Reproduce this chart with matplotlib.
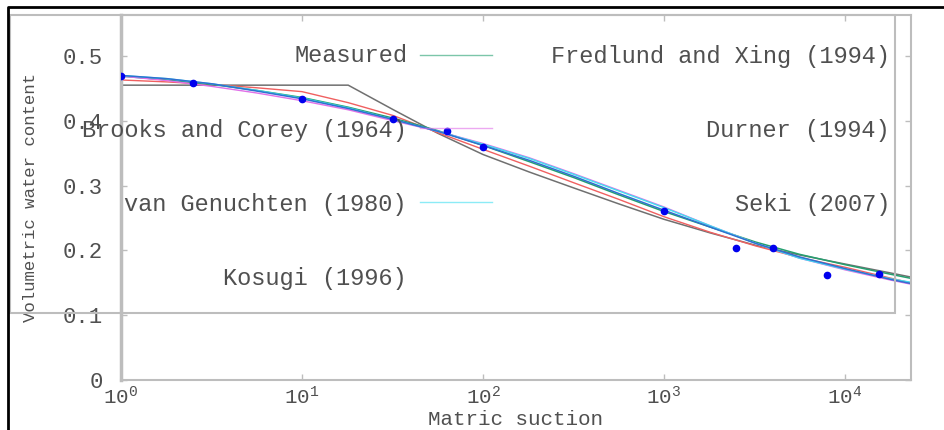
import numpy as np
import matplotlib.pyplot as plt
from matplotlib.patches import Rectangle
from matplotlib.lines import Line2D

# Soil water retention curve: measured points and fitted models

# Measured points
suction_meas = [1, 2.5, 10, 32, 63, 100, 1000, 2500, 4000, 8000, 15500]
theta_meas = [0.469, 0.458, 0.434, 0.403, 0.384, 0.360, 0.261, 0.204, 0.204, 0.162, 0.164]

# Suction values at which the fitted curves were read
suction_fit = [1, 1.8, 3.2, 5.6, 10, 18, 32, 56, 100, 180, 320, 560,
               1000, 1800, 3200, 5600, 10000, 18000, 23000]

theta_bc = [0.455, 0.455, 0.455, 0.455, 0.455, 0.455, 0.417, 0.381, 0.348, 0.321, 0.296, 0.272,
            0.248, 0.227, 0.208, 0.193, 0.179, 0.165, 0.159]
theta_fx = [0.469, 0.463, 0.456, 0.447, 0.436, 0.421, 0.404, 0.385, 0.362, 0.337, 0.312, 0.286,
            0.260, 0.236, 0.213, 0.194, 0.178, 0.163, 0.157]
theta_vg = [0.470, 0.465, 0.457, 0.447, 0.435, 0.420, 0.402, 0.384, 0.364, 0.342, 0.317, 0.292,
            0.266, 0.238, 0.211, 0.188, 0.171, 0.156, 0.151]
theta_du = [0.469, 0.462, 0.453, 0.443, 0.431, 0.417, 0.400, 0.384, 0.365, 0.343, 0.318, 0.293,
            0.267, 0.238, 0.211, 0.188, 0.170, 0.154, 0.148]
theta_ko = [0.463, 0.460, 0.456, 0.451, 0.445, 0.428, 0.408, 0.382, 0.356, 0.330, 0.304, 0.279,
            0.252, 0.228, 0.207, 0.189, 0.174, 0.157, 0.150]
theta_se = [0.470, 0.465, 0.457, 0.446, 0.434, 0.419, 0.402, 0.384, 0.362, 0.339, 0.314, 0.288,
            0.262, 0.236, 0.211, 0.190, 0.172, 0.155, 0.149]

# Key labels (two columns, as in the original key)
key_left = ['Measured', 'Brooks and Corey (1964)', 'van Genuchten (1980)', 'Kosugi (1996)']
key_right = ['Fredlund and Xing (1994)', 'Durner (1994)', 'Seki (2007)']

y_ticks = [0, 0.1, 0.2, 0.3, 0.4, 0.5]
y_ticklabels = ['0', '0.1', '0.2', '0.3', '0.4', '0.5']
x_ticks = [1, 10, 100, 1000, 10000]
x_ticklabels = [r'$\mathregular{10^{%d}}$' % i for i in range(5)]

# Colours
c_bc = '#707070'
c_fx = '#25a070'
c_vg = '#40dff0'
c_du = '#e070e8'
c_ko = '#f06060'
c_se = '#3070d0'
c_txt = '#505050'
c_frame = '#bdbdbd'

plt.rcParams['font.family'] = ['Liberation Mono', 'DejaVu Sans Mono']

fig = plt.figure(figsize=(9.44, 4.3), dpi=100)
W, H = 944.0, 430.0
ax = fig.add_axes([121 / W, 1 - 380 / H, (911 - 121) / W, (380 - 15) / H])

ax.plot(suction_fit, theta_bc, color=c_bc, lw=1.1)
ax.plot(suction_fit, theta_ko, color=c_ko, lw=1.0)
ax.plot(suction_fit, theta_fx, color=c_fx, lw=1.1)
ax.plot(suction_fit, theta_du, color=c_du, lw=1.0)
ax.plot(suction_fit, theta_vg, color=c_vg, lw=1.0)
ax.plot(suction_fit, theta_se, color=c_se, lw=1.1)
ax.plot(suction_meas, theta_meas, 'o', color='#0000ee', ms=4.5, zorder=5)

ax.set_xscale('log')
ax.set_xlim(1, 10 ** ((911 - 121) / 181.0))
ax.set_ylim(0, (380 - 15) / 648.0)
ax.set_xticks(x_ticks)
ax.set_xticklabels(x_ticklabels)
ax.xaxis.set_minor_locator(plt.NullLocator())
ax.set_yticks(y_ticks)
ax.set_yticklabels(y_ticklabels)

ax.tick_params(direction='in', length=4, width=1, colors=c_frame, top=True, right=True)
ax.tick_params(axis='y', labelsize=16, labelcolor=c_txt, pad=13)
ax.tick_params(axis='x', labelsize=15, labelcolor=c_txt, pad=4)
for s in ax.spines.values():
    s.set_color(c_frame)
    s.set_linewidth(1.5)
ax.spines['left'].set_linewidth(2.5)

ax.set_xlabel('Matric suction', fontsize=15, color=c_txt)
ax.xaxis.set_label_coords(0.5, -30 / 365.0)
ax.set_ylabel('Volumetric water content', fontsize=12.5, color=c_txt, labelpad=18)

# Key box
fig.add_artist(Rectangle((10 / W, 1 - 313 / H), (895 - 10) / W, (313 - 15) / H,
                         transform=fig.transFigure, fill=False, edgecolor=c_frame, lw=1.5))

rows_y = [56, 130, 204, 278]
for lab, ry in zip(key_left, rows_y):
    fig.text(407 / W, 1 - ry / H, lab, ha='right', va='center', fontsize=17, color=c_txt)
for lab, ry in zip(key_right, rows_y):
    fig.text(890 / W, 1 - ry / H, lab, ha='right', va='center', fontsize=17, color=c_txt)
for col, ry in zip([c_fx, c_du, c_vg], [55, 128, 202]):
    fig.add_artist(Line2D([420 / W, 492 / W], [1 - ry / H, 1 - ry / H],
                          transform=fig.transFigure, color=col, lw=1.0, alpha=0.6))

# Outer black border (left and top)
fig.add_artist(Line2D([8 / W, 8 / W, 1.0], [0.0, 1 - 7 / H, 1 - 7 / H],
                      transform=fig.transFigure, color='black', lw=2))

fig.savefig('out.png', dpi=100)
